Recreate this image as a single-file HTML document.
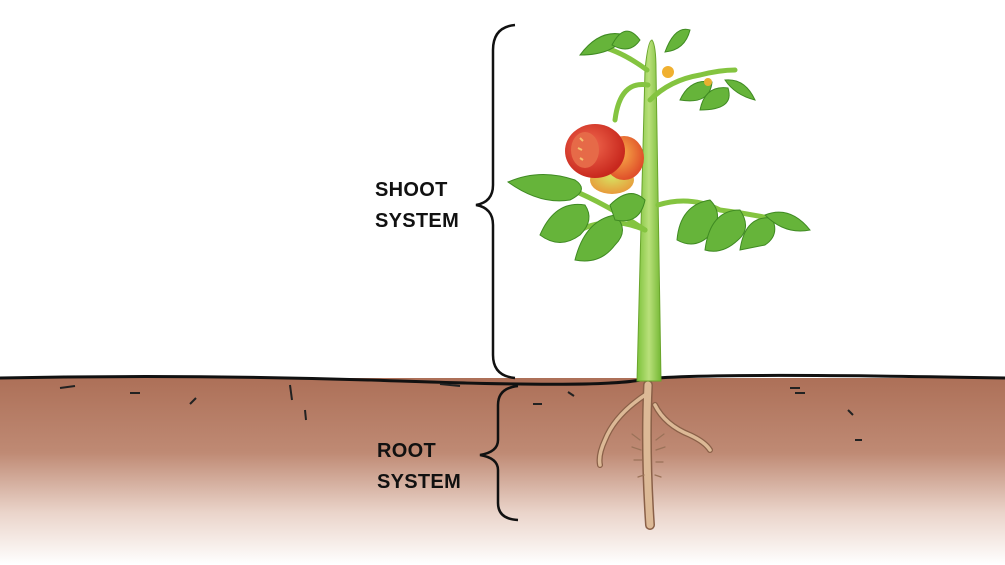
<!DOCTYPE html>
<html><head><style>
html,body{margin:0;padding:0;background:#fff;}
body{width:1005px;height:565px;overflow:hidden;position:relative;font-family:"Liberation Sans",sans-serif;}
.t{position:absolute;font-size:20px;font-weight:bold;color:#111;line-height:31px;letter-spacing:0.3px}
</style></head><body>
<svg width="1005" height="565" style="position:absolute;left:0;top:0">
<defs>
<linearGradient id="soil" x1="0" y1="0" x2="0" y2="1">
<stop offset="0" stop-color="#ad7058"/>
<stop offset="0.4" stop-color="#bf8a74"/>
<stop offset="0.72" stop-color="#ead4ca"/>
<stop offset="1" stop-color="#ffffff"/>
</linearGradient>
<linearGradient id="stem" x1="0" y1="0" x2="1" y2="0">
<stop offset="0" stop-color="#7cc23a"/><stop offset="0.5" stop-color="#b9e07a"/><stop offset="1" stop-color="#74b834"/>
</linearGradient>
<radialGradient id="tr" cx="0.4" cy="0.4" r="0.6"><stop offset="0" stop-color="#f26a4f"/><stop offset="1" stop-color="#c8281e"/></radialGradient>
<radialGradient id="to" cx="0.4" cy="0.4" r="0.6"><stop offset="0" stop-color="#f8b04a"/><stop offset="1" stop-color="#e0502a"/></radialGradient>
<radialGradient id="ty" cx="0.5" cy="0.4" r="0.6"><stop offset="0" stop-color="#d8e060"/><stop offset="1" stop-color="#e89a3a"/></radialGradient>
</defs>
<rect x="0" y="378" width="1005" height="187" fill="url(#soil)"/>
<path d="M0 378 Q200 374 400 381 T640 380 T1005 378" stroke="#111" stroke-width="3" fill="none"/>
<g stroke="#222" stroke-width="2">
<line x1="60" y1="388" x2="75" y2="386"/><line x1="130" y1="393" x2="140" y2="393"/><line x1="190" y1="404" x2="196" y2="398"/>
<line x1="290" y1="385" x2="292" y2="400"/><line x1="305" y1="410" x2="306" y2="420"/><line x1="533" y1="404" x2="542" y2="404"/>
<line x1="568" y1="392" x2="574" y2="396"/><line x1="790" y1="388" x2="800" y2="388"/><line x1="795" y1="393" x2="805" y2="393"/>
<line x1="848" y1="410" x2="853" y2="415"/><line x1="855" y1="440" x2="862" y2="440"/><line x1="440" y1="384" x2="460" y2="386"/>
</g>
<path d="M515 25 Q493 27 493 50 L493 185 Q493 202 476 205 Q493 208 493 225 L493 355 Q493 376 515 378" stroke="#111" stroke-width="2.5" fill="none"/>
<path d="M518 386 Q498 388 498 405 L498 440 Q498 452 480 455 Q498 458 498 470 L498 503 Q498 519 518 520" stroke="#111" stroke-width="2.5" fill="none"/>
<g fill="none" stroke-linecap="round">
<g stroke="#8a6048">
<path d="M648 385 Q645 450 650 525" stroke-width="10"/>
<path d="M645 395 Q615 415 605 440 Q598 455 600 465" stroke-width="6"/>
<path d="M655 405 Q665 425 690 435 Q705 442 710 450" stroke-width="6"/>
</g>
<g stroke="#dcb996">
<path d="M648 385 Q645 450 650 525" stroke-width="7"/>
<path d="M645 395 Q615 415 605 440 Q598 455 600 465" stroke-width="3.5"/>
<path d="M655 405 Q665 425 690 435 Q705 442 710 450" stroke-width="3.5"/>
</g>
<path d="M640 440 l-8 -6 M641 450 l-9 -3 M642 460 l-8 0 M656 440 l8 -6 M656 450 l9 -3 M656 462 l7 0 M644 475 l-6 2 M655 475 l6 2" stroke-width="1.2" stroke="#9a7258"/>
</g>
<path d="M637 381 L645 70 Q648 40 652 40 Q656 45 656 70 L661 381 Z" fill="url(#stem)" stroke="#6aa52c" stroke-width="1"/>
<g stroke="#84c440" stroke-width="5" fill="none" stroke-linecap="round">
<path d="M648 85 Q620 80 615 120"/><path d="M650 100 Q670 80 700 75 Q720 70 735 70"/>
<path d="M645 230 Q600 200 560 185"/><path d="M645 230 Q610 215 580 230"/>
<path d="M658 205 Q690 195 720 210 Q760 215 800 225"/>
<path d="M647 70 Q620 50 595 45"/>
</g>
<g fill="#66b43a" stroke="#3f8a22" stroke-width="1">
<path d="M508 182 Q540 168 575 180 Q590 190 570 200 Q540 205 508 182Z"/>
<path d="M540 235 Q555 200 585 205 Q595 220 580 235 Q560 250 540 235Z"/>
<path d="M575 260 Q585 220 615 215 Q630 230 615 245 Q600 265 575 260Z"/>
<path d="M610 205 Q630 185 645 200 Q640 225 615 220Z"/>
<path d="M677 240 Q680 205 710 200 Q725 215 710 235 Q695 250 677 240Z"/>
<path d="M705 250 Q710 210 740 210 Q752 228 738 240 Q722 255 705 250Z"/>
<path d="M740 250 Q745 215 772 218 Q780 235 765 245Z"/>
<path d="M765 215 Q790 205 810 230 Q785 235 765 215Z"/>
<path d="M580 55 Q600 28 625 35 Q615 55 580 55Z"/>
<path d="M612 45 Q625 20 640 40 Q630 55 612 45Z"/>
<path d="M665 52 Q675 25 690 30 Q685 50 665 52Z"/>
<path d="M680 100 Q690 78 712 82 Q710 105 680 100Z"/>
<path d="M700 110 Q705 85 728 88 Q735 110 700 110Z"/>
<path d="M725 80 Q745 78 755 100 Q735 95 725 80Z"/>
</g>
<circle cx="668" cy="72" r="6" fill="#f0b030"/><circle cx="708" cy="82" r="4" fill="#e8b030"/>
<ellipse cx="612" cy="180" rx="22" ry="14" fill="url(#ty)"/>
<ellipse cx="624" cy="158" rx="20" ry="22" fill="url(#to)"/>
<ellipse cx="595" cy="151" rx="30" ry="27" fill="url(#tr)"/>
<ellipse cx="585" cy="150" rx="14" ry="18" fill="#e66a48"/>
<path d="M580 138 l3 3 M578 148 l4 2 M580 158 l3 2" stroke="#f4c070" stroke-width="2"/>
</svg>
<div class="t" style="left:375px;top:175px">SHOOT<br>SYSTEM</div>
<div class="t" style="left:377px;top:436px">ROOT<br>SYSTEM</div>
</body></html>
